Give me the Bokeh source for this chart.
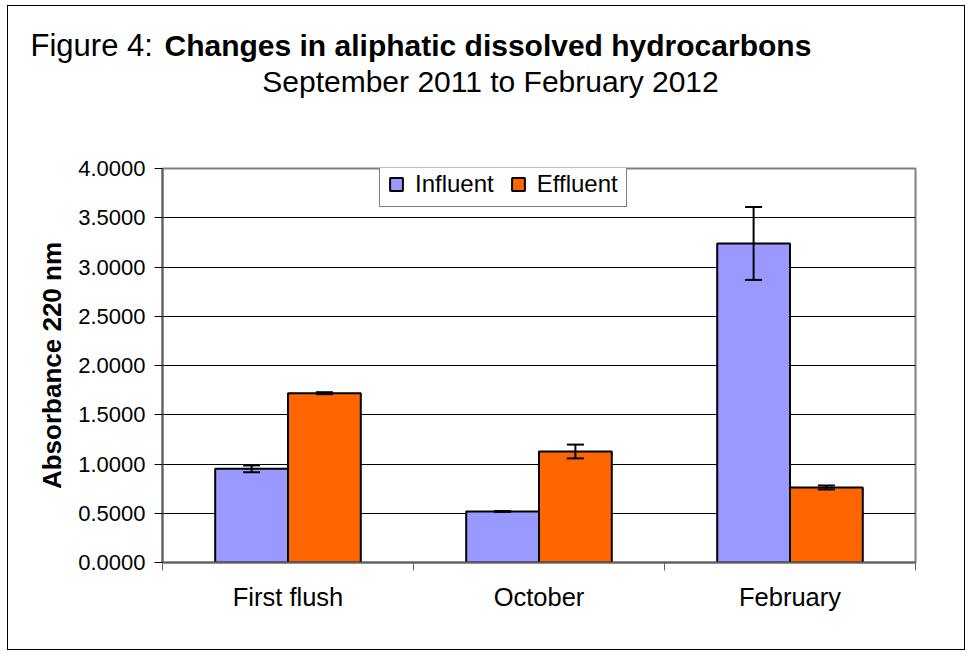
import numpy as np
from bokeh.plotting import figure
from bokeh.models import (ColumnDataSource, Whisker, TeeHead, Legend, LegendItem, Label,
                          FixedTicker, PrintfTickFormatter, Range1d)
from bokeh.embed import file_html
from bokeh.resources import INLINE

categories = ["First flush", "October", "February"]
influent = [0.951, 0.518, 3.239]
influent_err = [0.035, 0.005, 0.37]
effluent = [1.719, 1.127, 0.761]
effluent_err = [0.01, 0.07, 0.02]
y_ticks = [0.0, 0.5, 1.0, 1.5, 2.0, 2.5, 3.0, 3.5, 4.0]

FONT = "Liberation Sans"
C_IN = "#9999FF"
C_EF = "#FF6600"
BW = 0.29

idx = np.arange(len(categories))
centers = idx + 0.5

src_in = ColumnDataSource(dict(x=centers - BW / 2, top=influent,
                               upper=np.array(influent) + np.array(influent_err),
                               lower=np.array(influent) - np.array(influent_err)))
src_ef = ColumnDataSource(dict(x=centers + BW / 2, top=effluent,
                               upper=np.array(effluent) + np.array(effluent_err),
                               lower=np.array(effluent) - np.array(effluent_err)))

# ---------- title panel (page-pixel coordinates) ----------
X0, Y0, W, H1 = 7, 5, 958, 143
t = figure(width=W, height=H1, output_backend="svg", toolbar_location=None,
           x_range=Range1d(X0, X0 + W), y_range=Range1d(Y0 + H1, Y0),
           min_border=0, min_border_left=0, min_border_right=0,
           min_border_top=0, min_border_bottom=0)
t.axis.visible = False
t.grid.visible = False
t.outline_line_color = None
t.background_fill_color = "white"
t.border_fill_color = "white"
t.styles = {"border-top": "1px solid #000000", "border-left": "1px solid #000000",
            "border-right": "1px solid #000000", "margin-left": "7px", "margin-top": "5px"}
t.add_layout(Label(x=29, y=44, text="Figure 4:", text_font=FONT, text_font_size="31px",
                   text_color="black", text_baseline="alphabetic"))
t.add_layout(Label(x=163, y=44, text="Changes in aliphatic dissolved hydrocarbons",
                   text_font=FONT, text_font_size="30px", text_font_style="bold",
                   text_color="black", text_baseline="alphabetic"))
t.add_layout(Label(x=489, y=80, text="September 2011 to February 2012",
                   text_font=FONT, text_font_size="30px", text_color="black",
                   text_baseline="alphabetic", text_align="center"))

# ---------- main plot ----------
p = figure(width=W, height=502, output_backend="svg", toolbar_location=None,
           x_range=Range1d(0, len(categories)), y_range=Range1d(0, 4),
           min_border_left=154, min_border_right=51, min_border_top=20, min_border_bottom=88)
p.styles = {"border-bottom": "1px solid #000000", "border-left": "1px solid #000000",
            "border-right": "1px solid #000000", "margin-left": "7px"}
p.background_fill_color = "white"
p.border_fill_color = "white"
p.outline_line_color = "#808080"
p.outline_line_width = 2

r_in = p.vbar(x="x", top="top", width=BW, source=src_in, fill_color=C_IN,
              line_color="black", line_width=2)
r_ef = p.vbar(x="x", top="top", width=BW, source=src_ef, fill_color=C_EF,
              line_color="black", line_width=2)

for src in (src_in, src_ef):
    w = Whisker(base="x", upper="upper", lower="lower", source=src, level="overlay",
                line_color="black", line_width=2,
                upper_head=TeeHead(size=17, line_color="black", line_width=2),
                lower_head=TeeHead(size=17, line_color="black", line_width=2))
    p.add_layout(w)

# grid
p.xgrid.visible = False
p.ygrid.grid_line_color = "black"
p.ygrid.grid_line_width = 1
p.ygrid.ticker = FixedTicker(ticks=y_ticks)

# y axis
p.yaxis.ticker = FixedTicker(ticks=y_ticks)
p.yaxis.formatter = PrintfTickFormatter(format="%.4f")
p.yaxis.axis_label = "Absorbance 220 nm"
p.yaxis.axis_label_text_font = FONT
p.yaxis.axis_label_text_font_style = "bold"
p.yaxis.axis_label_text_font_size = "26px"
p.yaxis.axis_label_text_color = "black"
p.yaxis.axis_label_standoff = 8
p.yaxis.major_label_text_font = FONT
p.yaxis.major_label_text_font_size = "22px"
p.yaxis.major_label_text_color = "black"
p.yaxis.major_label_standoff = 9
p.yaxis.major_tick_out = 8
p.yaxis.major_tick_in = 0
p.yaxis.minor_tick_out = 0
p.yaxis.minor_tick_in = 0
p.yaxis.major_tick_line_color = "black"
p.yaxis.axis_line_color = "#606060"
p.yaxis.axis_line_width = 2

# x axis: labels at centers, tick marks at category boundaries
p.xaxis.ticker = FixedTicker(ticks=list(centers), minor_ticks=list(np.arange(len(categories) + 1)))
p.xaxis.major_label_overrides = {float(c): lab for c, lab in zip(centers, categories)}
p.xaxis.major_label_text_font = FONT
p.xaxis.major_label_text_font_size = "25.5px"
p.xaxis.major_label_text_color = "black"
p.xaxis.major_label_standoff = 12
p.xaxis.major_tick_out = 0
p.xaxis.major_tick_in = 0
p.xaxis.minor_tick_out = 8
p.xaxis.minor_tick_in = 0
p.xaxis.minor_tick_line_color = "#606060"
p.xaxis.axis_line_color = "#606060"
p.xaxis.axis_line_width = 2

legend = Legend(items=[LegendItem(label="Influent", renderers=[r_in]),
                       LegendItem(label="Effluent", renderers=[r_ef])],
                orientation="horizontal", location=(217, 355),
                label_text_font=FONT, label_text_font_size="24px", label_text_color="black",
                glyph_width=16, glyph_height=16, label_standoff=11, spacing=16,
                padding=8, margin=0, border_line_color="black", border_line_width=1,
                background_fill_color="white", background_fill_alpha=1.0,
                label_height=24)
p.add_layout(legend, "center")

open("out.html", "w").write(file_html([t, p], INLINE))
